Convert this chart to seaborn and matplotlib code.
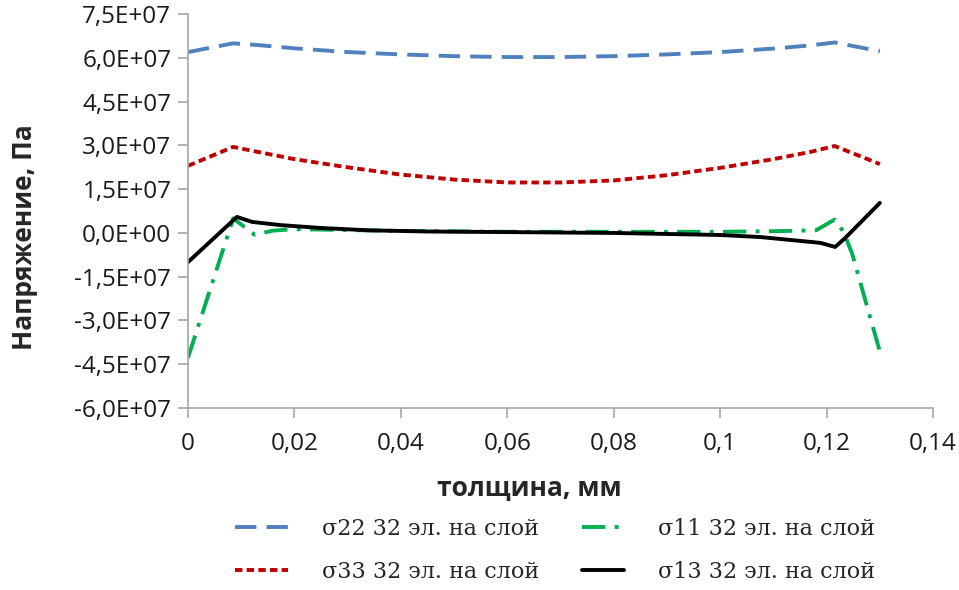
import numpy as np
import pandas as pd
import matplotlib
matplotlib.use("Agg")
import matplotlib.pyplot as plt
from matplotlib.ticker import FuncFormatter, MultipleLocator
import seaborn as sns

# ---- data (stress values in units of 1e6 Pa) ----
x22 = [0, 0.0085, 0.0125, 0.02, 0.03, 0.04, 0.05, 0.06, 0.07, 0.08, 0.09, 0.1, 0.11, 0.117, 0.1215, 0.13]
s22 = [62.0, 65.0, 64.5, 63.3, 62.0, 61.2, 60.6, 60.3, 60.3, 60.6, 61.2, 62.0, 63.2, 64.3, 65.3, 62.3]

x33 = [0, 0.0085, 0.0125, 0.02, 0.03, 0.04, 0.05, 0.06, 0.07, 0.08, 0.09, 0.1, 0.11, 0.117, 0.1215, 0.13]
s33 = [23.0, 29.5, 28.0, 25.3, 22.5, 20.0, 18.3, 17.3, 17.3, 18.0, 19.8, 22.3, 25.3, 27.8, 29.8, 23.6]

x11 = [0, 0.0085, 0.0125, 0.016, 0.02, 0.03, 0.04, 0.06, 0.08, 0.1, 0.11, 0.118, 0.1215, 0.1232, 0.1248, 0.13]
s11 = [-42.8, 5.0, -0.6, 0.8, 1.3, 1.0, 0.7, 0.4, 0.4, 0.4, 0.6, 0.9, 4.6, 0.3, -7.2, -40.7]

x13 = [0, 0.0092, 0.012, 0.0173, 0.025, 0.034, 0.045, 0.06, 0.08, 0.1, 0.1075, 0.1188, 0.1216, 0.1235, 0.13]
s13 = [-10.0, 5.5, 3.8, 2.7, 1.7, 0.9, 0.5, 0.3, 0.0, -0.7, -1.4, -3.4, -4.8, -1.7, 10.3]

labels = ["σ22 32 эл. на слой", "σ33 32 эл. на слой", "σ11 32 эл. на слой", "σ13 32 эл. на слой"]
colors = ["#4F81BD", "#C00000", "#00B050", "#000000"]
styles = [(0, (5.5, 2.6)), (0, (1.9, 1.1)), (0, (6.0, 2.4, 1.0, 2.4)), "-"]

series = [(x22, s22), (x33, s33), (x11, s11), (x13, s13)]

sns.set_theme(style="white")
plt.rcParams['font.family'] = ['Open Sans', 'DejaVu Sans']

fig = plt.figure(figsize=(9.59, 5.90), dpi=100)
ax = fig.add_axes([0.196, 0.3085, 0.777, 0.6675])

lines = []
for (xs, ys), lab, col, ls in zip(series, labels, colors, styles):
    df = pd.DataFrame({"x": xs, "y": np.array(ys) * 1e6})
    sns.lineplot(data=df, x="x", y="y", ax=ax, color=col, linestyle=ls,
                 linewidth=2.8, label=lab, sort=False, legend=False)
    lines.append(ax.lines[-1])

ax.set_xlim(0, 0.14)
ax.set_ylim(-6e7, 7.5e7)
ax.xaxis.set_major_locator(MultipleLocator(0.02))
ax.yaxis.set_major_locator(MultipleLocator(1.5e7))

def yfmt(v, pos):
    return f"{v:.1E}".replace(".", ",")

def xfmt(v, pos):
    if abs(v) < 1e-12:
        return "0"
    return f"{v:.2f}".rstrip("0").replace(".", ",")

ax.yaxis.set_major_formatter(FuncFormatter(yfmt))
ax.xaxis.set_major_formatter(FuncFormatter(xfmt))

for s in ["top", "right"]:
    ax.spines[s].set_visible(False)
for s in ["left", "bottom"]:
    ax.spines[s].set_color("#A6A6A6")
    ax.spines[s].set_linewidth(1.2)

ax.tick_params(axis="both", which="major", direction="out", length=7, width=1.2,
               color="#A6A6A6", labelsize=17.5, labelcolor="#1a1a1a", pad=5)
ax.tick_params(axis="x", pad=10)
ax.tick_params(left=True, bottom=True)

ax.set_xlabel("толщина, мм", fontsize=19, fontweight="bold")
ax.set_ylabel("Напряжение, Па", fontsize=19, fontweight="bold")
ax.xaxis.set_label_coords(0.458, -0.17)
ax.yaxis.set_label_coords(-0.2013, 0.434)

legprops = {"family": ["DejaVu Serif"], "size": 16}
leg1 = fig.legend([lines[0], lines[1]], [labels[0], labels[1]],
                  loc="upper left", bbox_to_anchor=(235 / 959, 1 - 518 / 590),
                  frameon=False, handlelength=2.4, handletextpad=1.5,
                  labelspacing=0.95, borderpad=0, borderaxespad=0, prop=legprops)
leg2 = fig.legend([lines[2], lines[3]], [labels[2], labels[3]],
                  loc="upper left", bbox_to_anchor=(582 / 959, 1 - 518 / 590),
                  frameon=False, handlelength=1.9, handletextpad=1.5,
                  labelspacing=0.95, borderpad=0, borderaxespad=0, prop=legprops)

fig.savefig("out.png", dpi=100)
